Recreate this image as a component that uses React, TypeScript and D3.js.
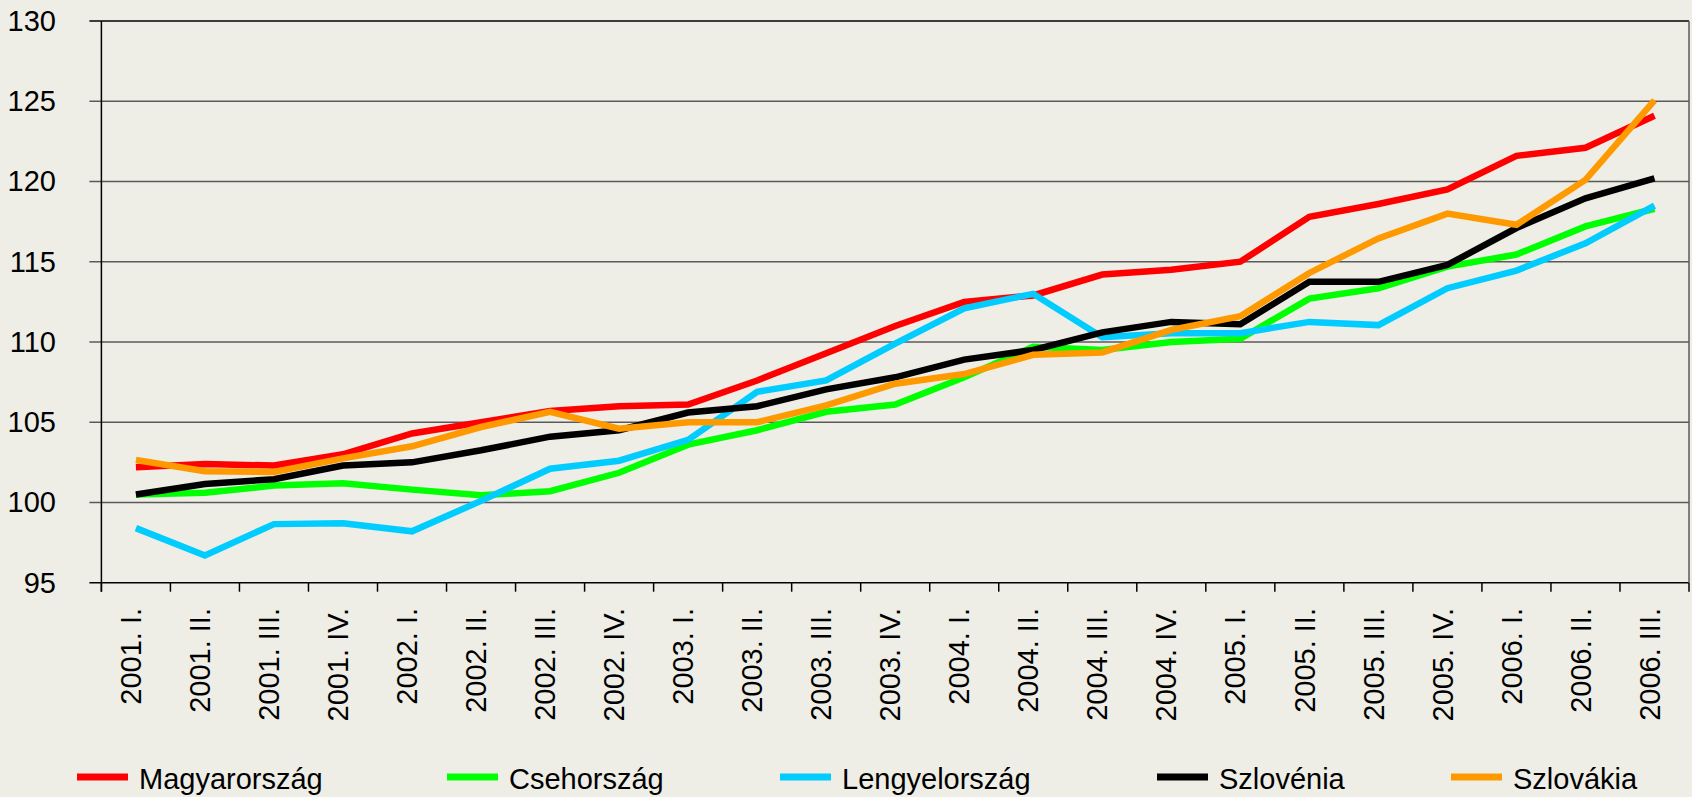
import React from "react";
import * as d3 from "d3";

const categories = [
  "2001. I.", "2001. II.", "2001. III.", "2001. IV.",
  "2002. I.", "2002. II.", "2002. III.", "2002. IV.",
  "2003. I.", "2003. II.", "2003. III.", "2003. IV.",
  "2004. I.", "2004. II.", "2004. III.", "2004. IV.",
  "2005. I.", "2005. II.", "2005. III.", "2005. IV.",
  "2006. I.", "2006. II.", "2006. III.",
];

const magyarorszag = [102.2, 102.4, 102.3, 103.0, 104.3, 105.0, 105.7, 106.0, 106.1, 107.6, 109.3, 111.0, 112.5, 112.9, 114.2, 114.5, 115.0, 117.8, 118.6, 119.5, 121.6, 122.1, 124.1];
const csehorszag = [100.5, 100.6, 101.05, 101.2, 100.8, 100.45, 100.7, 101.85, 103.6, 104.5, 105.65, 106.1, 107.8, 109.7, 109.5, 110.0, 110.2, 112.7, 113.35, 114.7, 115.45, 117.2, 118.3];
const lengyelorszag = [98.4, 96.7, 98.65, 98.7, 98.2, 100.1, 102.1, 102.6, 103.9, 106.9, 107.6, 109.9, 112.1, 113.0, 110.3, 110.55, 110.55, 111.25, 111.05, 113.35, 114.45, 116.15, 118.5];
const szlovenia = [100.5, 101.15, 101.45, 102.3, 102.5, 103.25, 104.1, 104.5, 105.6, 106.0, 107.05, 107.8, 108.9, 109.5, 110.6, 111.25, 111.1, 113.75, 113.75, 114.8, 117.1, 118.95, 120.2];
const szlovakia = [102.65, 101.95, 101.9, 102.75, 103.5, 104.7, 105.65, 104.6, 105.0, 105.0, 106.05, 107.4, 108.0, 109.2, 109.35, 110.75, 111.6, 114.3, 116.45, 118.0, 117.3, 120.1, 125.05];

const seriesNames = ["Magyarország", "Csehország", "Lengyelország", "Szlovénia", "Szlovákia"];
const seriesValues = [magyarorszag, csehorszag, lengyelorszag, szlovenia, szlovakia];
const seriesColors = ["#FF0000", "#00FF00", "#00CCFF", "#000000", "#FF9900"];

const yTicks = [95, 100, 105, 110, 115, 120, 125, 130];

// layout
const W = 1692;
const H = 797;
const L = 101.4;
const R = 1689;
const T = 21;
const B = 582.7;
const legendX = [77, 447, 780, 1157, 1451];
const FONT = "'Liberation Sans', Arial, sans-serif";

export default function App() {
  const x = d3.scaleBand<string>().domain(categories).range([L, R]).padding(0);
  const bw = x.bandwidth();
  const cx = (c: string) => (x(c) as number) + bw / 2;
  const y = d3.scaleLinear().domain([95, 130]).range([B, T]);
  const line = d3
    .line<number>()
    .x((_, i) => cx(categories[i]))
    .y((d) => y(d));

  const tickXs = categories.map((c) => x(c) as number).concat([R]);

  return (
    <svg
      width={W}
      height={H}
      style={{ position: "absolute", left: 0, top: 0, background: "#EEEEE6" }}
      fontFamily={FONT}
    >
      <rect x={0} y={0} width={W} height={H} fill="#EEEEE6" />
      {/* gridlines */}
      {yTicks.map((t) => (
        <line key={"g" + t} x1={L - 12} x2={R} y1={y(t)} y2={y(t)} stroke={t === 95 || t === 130 ? "#000" : "#5a5a5a"} strokeWidth={1.5} />
      ))}
      {/* right border */}
      <line x1={R} x2={R} y1={T} y2={B} stroke="#5a5a5a" strokeWidth={1.5} />
      {/* y axis */}
      <line x1={L} x2={L} y1={T} y2={B + 9} stroke="#000" strokeWidth={1.5} />
      {/* x ticks */}
      {tickXs.map((tx, i) => (
        <line key={"xt" + i} x1={tx} x2={tx} y1={B} y2={B + 9} stroke="#000" strokeWidth={1.5} />
      ))}
      {/* y labels */}
      {yTicks.map((t) => (
        <text key={"yl" + t} x={56} y={y(t)} textAnchor="end" dominantBaseline="central" fontSize={29} fill="#000">
          {t}
        </text>
      ))}
      {/* x labels */}
      {categories.map((c) => (
        <text
          key={"xl" + c}
          transform={`translate(${cx(c) - 5},${608}) rotate(-90)`}
          textAnchor="end"
          dy="0.35em"
          fontSize={29}
          fill="#000"
        >
          {c}
        </text>
      ))}
      {/* series */}
      {seriesValues.map((vals, si) => (
        <path
          key={"s" + si}
          d={line(vals) || ""}
          fill="none"
          stroke={seriesColors[si]}
          strokeWidth={6.5}
          strokeLinejoin="miter"
        />
      ))}
      {/* legend */}
      {seriesNames.map((n, i) => (
        <g key={"lg" + i}>
          <line x1={legendX[i]} x2={legendX[i] + 51} y1={777} y2={777} stroke={seriesColors[i]} strokeWidth={7} />
          <text x={legendX[i] + 62} y={789} fontSize={29} fill="#000">
            {n}
          </text>
        </g>
      ))}
    </svg>
  );
}
